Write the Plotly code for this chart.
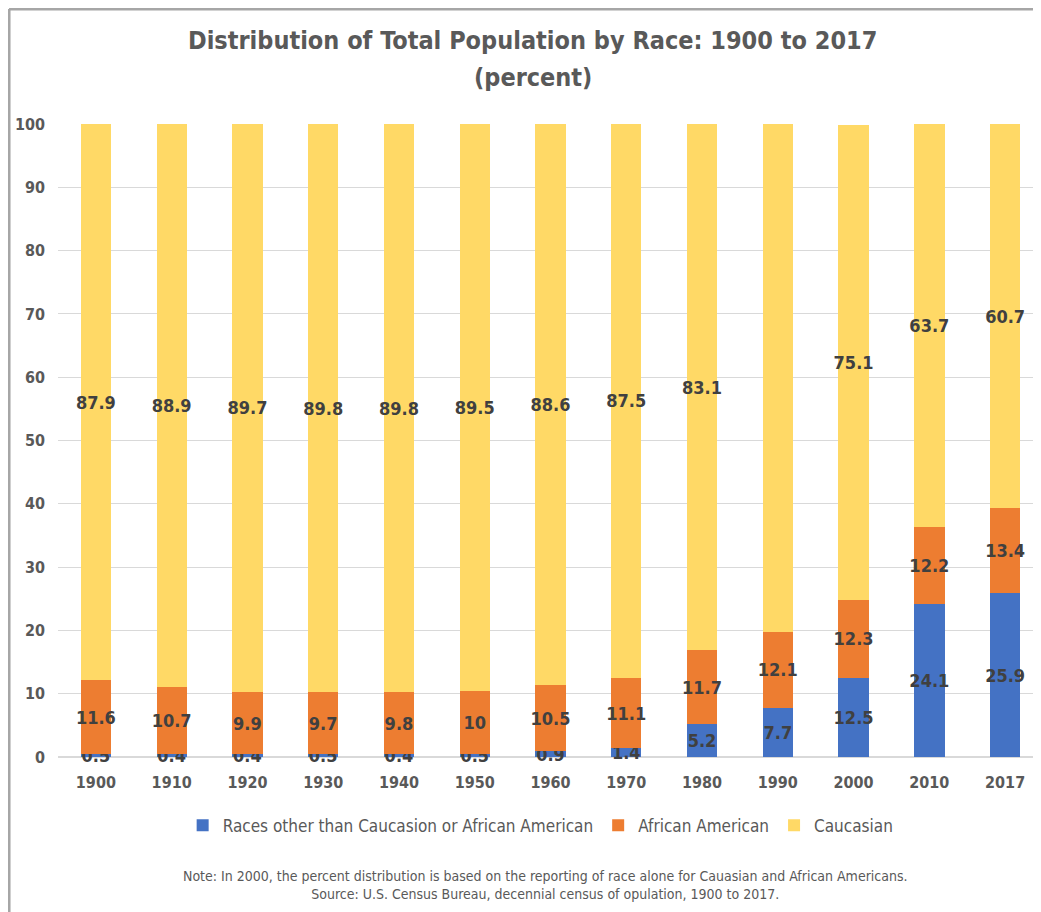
import plotly.graph_objects as go

years = ["1900", "1910", "1920", "1930", "1940", "1950", "1960",
         "1970", "1980", "1990", "2000", "2010", "2017"]
other = [0.5, 0.4, 0.4, 0.5, 0.4, 0.5, 0.9, 1.4, 5.2, 7.7, 12.5, 24.1, 25.9]
african_american = [11.6, 10.7, 9.9, 9.7, 9.8, 10, 10.5, 11.1, 11.7, 12.1, 12.3, 12.2, 13.4]
caucasian = [87.9, 88.9, 89.7, 89.8, 89.8, 89.5, 88.6, 87.5, 83.1, 80.3, 75.1, 63.7, 60.7]

FONT = "DejaVu Sans Condensed, Liberation Sans Narrow, Lato, sans-serif"
TEXT = "#595959"


def font(size, color=TEXT, weight="normal"):
    return {"family": FONT, "size": size, "color": color, "weight": weight}


series = [
    ("Races other than Caucasion or African American", other, "#4472C4"),
    ("African American", african_american, "#ED7D31"),
    ("Caucasian", caucasian, "#FFD966"),
]

fig = go.Figure()
for name, vals, color in series:
    fig.add_trace(go.Bar(
        x=years, y=vals, name=name,
        marker={"color": color, "line": {"width": 0}},
        text=[f"{v:g}" for v in vals],
        textposition="inside",
        insidetextanchor="middle",
        textangle=0,
        textfont=font(18, "#404040", "bold"),
        cliponaxis=False,
    ))

fig.update_layout(
    barmode="stack",
    bargap=0.6,
    width=1041,
    height=912,
    plot_bgcolor="white",
    paper_bgcolor="white",
    font={"family": FONT, "color": TEXT},
    uniformtext={"minsize": 18, "mode": "show"},
    title={
        "text": "<b>Distribution of Total Population by Race: 1900 to 2017</b>",
        "x": 0.504, "xanchor": "center", "y": 0.965, "yanchor": "middle",
        "font": font(25),
    },
    margin={"l": 50, "r": 6, "t": 116, "b": 163},
    legend={
        "orientation": "h", "x": 0.49, "xanchor": "center", "y": -0.08, "yanchor": "top",
        "font": font(17),
        "traceorder": "normal", "itemwidth": 30,
    },
    annotations=[
        {"text": "<b>(percent)</b>", "xref": "paper", "yref": "paper",
         "x": 0.482, "y": 1.0727, "xanchor": "center", "yanchor": "middle",
         "showarrow": False, "font": font(25)},
        {"text": "Note: In 2000, the percent distribution is based on the reporting of race alone"
                 " for Cauasian and African Americans.<br>Source: U.S. Census Bureau, decennial"
                 " census of opulation, 1900 to 2017.",
         "xref": "paper", "yref": "paper", "x": 0.495, "y": -0.172,
         "xanchor": "center", "yanchor": "top", "showarrow": False,
         "font": font(14)},
    ],
    shapes=[
        # faint frame along the left and top edges of the chart area
        {"type": "line", "xref": "paper", "yref": "paper",
         "x0": -0.0497, "x1": -0.0497, "y0": -0.27, "y1": 1.1817,
         "line": {"color": "#A6A6A6", "width": 3}},
        {"type": "line", "xref": "paper", "yref": "paper",
         "x0": -0.0497, "x1": 1.01, "y0": 1.1817, "y1": 1.1817,
         "line": {"color": "#A6A6A6", "width": 3}},
    ],
)
fig.update_xaxes(
    tickfont=font(16, weight="bold"),
    showline=False, ticks="", ticklabelstandoff=14, automargin=False,
)
fig.update_yaxes(
    range=[0, 100], dtick=10,
    gridcolor="#D9D9D9", zerolinecolor="#D9D9D9",
    tickfont=font(16, weight="bold"),
    ticklabelstandoff=12, automargin=False,
)

fig.write_html("out.html")
